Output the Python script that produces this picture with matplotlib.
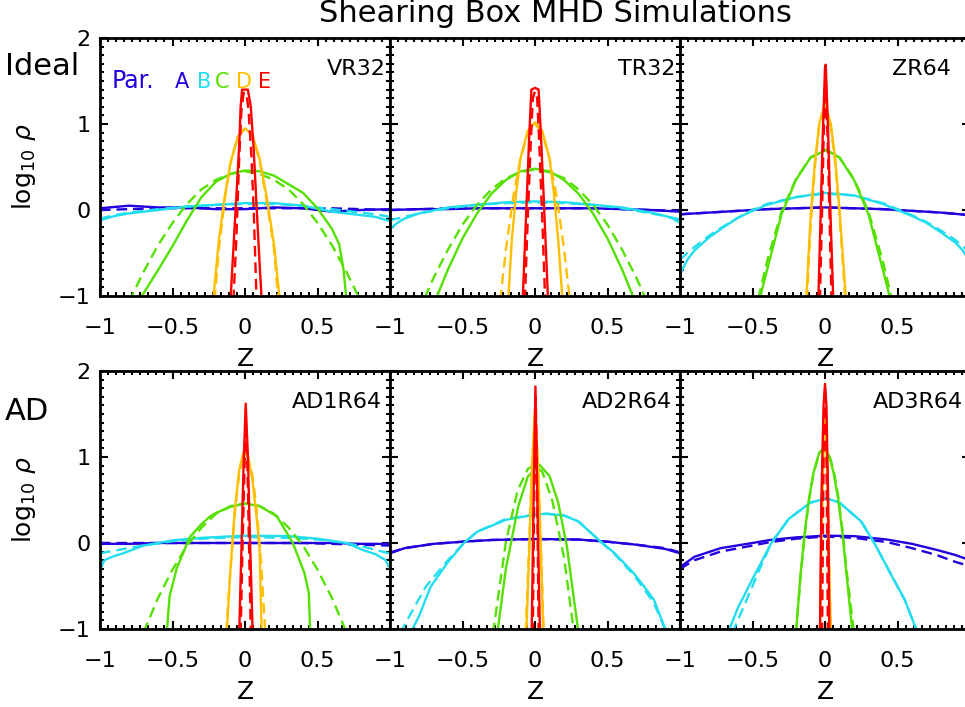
import numpy as np
import matplotlib
matplotlib.use("Agg")
import matplotlib.pyplot as plt
from matplotlib.ticker import MultipleLocator, AutoMinorLocator

plt.rcParams['font.family'] = ['DejaVu Sans']
plt.rcParams['mathtext.fontset'] = 'dejavusans'

# ---- data: z (height) and log10 rho ---- #
# sim = simulation profile (solid), fit = gaussian fit (dashed)

# VR32
VR32_A_z = [-1, -0.8, -0.6, -0.4, -0.2, 0, 0.2, 0.4, 0.6, 0.8, 1]
VR32_A_sim = [0.02, 0.05, 0.03, 0.03, 0.01, 0.01, 0.03, 0.02, -0.02, 0.0, 0.01]
VR32_A_fit = [0.0, 0.01, 0.02, 0.02, 0.02, 0.02, 0.02, 0.02, 0.02, 0.01, 0.0]
VR32_B_z = [-1, -0.9, -0.8, -0.6, -0.4, -0.2, 0, 0.2, 0.4, 0.6, 0.8, 0.9, 1]
VR32_B_sim = [-0.12, -0.07, -0.04, 0.0, 0.04, 0.06, 0.08, 0.08, 0.05, -0.02, -0.06, -0.08, -0.13]
VR32_B_fit = [-0.1, -0.06, -0.03, 0.01, 0.04, 0.06, 0.07, 0.07, 0.05, 0.01, -0.03, -0.05, -0.08]
VR32_C_zs = [-0.73, -0.6, -0.5, -0.4, -0.3, -0.2, -0.1, 0, 0.1, 0.2, 0.3, 0.4, 0.5, 0.6, 0.65, 0.68, 0.7]
VR32_C_sim = [-1.05, -0.7, -0.42, -0.12, 0.15, 0.33, 0.42, 0.46, 0.45, 0.4, 0.3, 0.2, 0.02, -0.22, -0.4, -0.7, -1.05]
VR32_C_zf = [-0.8, -0.7, -0.6, -0.5, -0.4, -0.3, -0.2, -0.1, 0, 0.1, 0.2, 0.3, 0.4, 0.5, 0.6, 0.7, 0.8]
VR32_C_fit = [-1.07, -0.72, -0.41, -0.15, 0.07, 0.24, 0.35, 0.42, 0.45, 0.42, 0.35, 0.24, 0.07, -0.15, -0.41, -0.72, -1.07]
VR32_D_zs = [-0.22, -0.18, -0.14, -0.1, -0.05, 0, 0.05, 0.1, 0.15, 0.2, 0.24]
VR32_D_sim = [-1.05, -0.35, 0.15, 0.55, 0.85, 0.95, 0.88, 0.6, 0.15, -0.4, -1.05]
VR32_D_zf = [-0.21, -0.18, -0.14, -0.1, -0.05, 0, 0.05, 0.1, 0.15, 0.2, 0.23]
VR32_D_fit = [-1.05, -0.45, 0.12, 0.55, 0.85, 0.95, 0.87, 0.58, 0.1, -0.45, -1.05]
VR32_E_zs = [-0.1, -0.08, -0.06, -0.04, -0.03, -0.02, 0.02, 0.04, 0.06, 0.08, 0.1, 0.115]
VR32_E_sim = [-1.05, -0.45, 0.15, 0.75, 1.2, 1.4, 1.4, 1.2, 0.7, 0.04, -0.6, -1.05]
VR32_E_zf = [-0.08, -0.06, -0.04, -0.025, -0.01, 0.01, 0.025, 0.045, 0.06, 0.075, 0.08]
VR32_E_fit = [-1.05, -0.35, 0.6, 1.15, 1.36, 1.36, 1.15, 0.6, 0.0, -0.8, -1.05]

# TR32
TR32_A_z = [-1, -0.8, -0.6, -0.4, -0.2, 0, 0.2, 0.4, 0.6, 0.8, 1]
TR32_A_sim = [0.0, 0.01, 0.01, 0.02, 0.02, 0.02, 0.02, 0.02, 0.01, 0.0, -0.02]
TR32_A_fit = [0.0, 0.01, 0.02, 0.02, 0.02, 0.02, 0.02, 0.02, 0.01, 0.0, -0.01]
TR32_B_z = [-1, -0.95, -0.9, -0.8, -0.6, -0.4, -0.2, 0, 0.2, 0.4, 0.6, 0.8, 0.9, 0.95, 1]
TR32_B_sim = [-0.22, -0.15, -0.1, -0.04, 0.03, 0.06, 0.09, 0.1, 0.09, 0.06, 0.03, -0.03, -0.07, -0.1, -0.15]
TR32_B_fit = [-0.12, -0.1, -0.08, -0.04, 0.02, 0.06, 0.08, 0.09, 0.08, 0.06, 0.02, -0.04, -0.07, -0.09, -0.11]
TR32_C_zs = [-0.68, -0.6, -0.5, -0.4, -0.3, -0.2, -0.1, 0, 0.1, 0.2, 0.3, 0.4, 0.5, 0.6, 0.68]
TR32_C_sim = [-1.02, -0.69, -0.33, -0.04, 0.19, 0.35, 0.45, 0.48, 0.45, 0.35, 0.19, -0.04, -0.33, -0.69, -1.02]
TR32_C_zf = [-0.76, -0.7, -0.6, -0.5, -0.4, -0.3, -0.2, -0.1, 0, 0.1, 0.2, 0.3, 0.4, 0.5, 0.6, 0.7, 0.76]
TR32_C_fit = [-1.02, -0.79, -0.46, -0.17, 0.06, 0.24, 0.37, 0.44, 0.47, 0.44, 0.37, 0.24, 0.06, -0.17, -0.46, -0.79, -1.02]
TR32_D_zs = [-0.185, -0.16, -0.13, -0.1, -0.05, 0, 0.05, 0.1, 0.13, 0.16, 0.19]
TR32_D_sim = [-1.05, -0.35, 0.2, 0.6, 0.92, 1.02, 0.92, 0.6, 0.2, -0.35, -1.05]
TR32_D_zf = [-0.24, -0.2, -0.15, -0.1, -0.05, 0, 0.05, 0.1, 0.15, 0.2, 0.24]
TR32_D_fit = [-1.05, -0.45, 0.15, 0.6, 0.9, 1.0, 0.9, 0.6, 0.15, -0.45, -1.05]
TR32_E_zs = [-0.085, -0.06, -0.04, -0.025, 0, 0.025, 0.04, 0.06, 0.09]
TR32_E_sim = [-1.05, 0.0, 0.85, 1.4, 1.42, 1.4, 0.9, 0.15, -1.05]
TR32_E_zf = [-0.07, -0.05, -0.03, -0.015, 0, 0.015, 0.03, 0.05, 0.07]
TR32_E_fit = [-1.05, -0.1, 0.75, 1.3, 1.38, 1.3, 0.75, -0.1, -1.05]

# ZR64
ZR64_A_z = [-1, -0.8, -0.6, -0.4, -0.2, 0, 0.2, 0.4, 0.6, 0.8, 1]
ZR64_A_sim = [-0.05, -0.03, -0.01, 0.01, 0.02, 0.03, 0.02, 0.01, -0.01, -0.03, -0.06]
ZR64_A_fit = [-0.05, -0.03, -0.01, 0.01, 0.02, 0.03, 0.02, 0.01, -0.01, -0.03, -0.06]
ZR64_B_z = [-1, -0.95, -0.9, -0.8, -0.7, -0.6, -0.5, -0.4, -0.2, 0, 0.2, 0.4, 0.5, 0.6, 0.7, 0.8, 0.9, 0.95, 1]
ZR64_B_sim = [-0.75, -0.58, -0.47, -0.32, -0.2, -0.09, -0.01, 0.06, 0.15, 0.2, 0.17, 0.07, 0.0, -0.07, -0.15, -0.26, -0.38, -0.47, -0.6]
ZR64_B_fit = [-0.58, -0.5, -0.43, -0.3, -0.19, -0.09, 0.0, 0.07, 0.15, 0.19, 0.17, 0.08, 0.01, -0.06, -0.14, -0.24, -0.35, -0.42, -0.5]
ZR64_C_zs = [-0.45, -0.4, -0.3, -0.2, -0.1, 0.01, 0.1, 0.2, 0.3, 0.4, 0.45]
ZR64_C_sim = [-1.03, -0.7, -0.05, 0.35, 0.61, 0.7, 0.61, 0.35, -0.05, -0.7, -1.03]
ZR64_C_zf = [-0.46, -0.4, -0.3, -0.2, -0.1, 0, 0.1, 0.2, 0.3, 0.4, 0.46]
ZR64_C_fit = [-1.03, -0.6, -0.02, 0.36, 0.61, 0.7, 0.61, 0.36, -0.02, -0.6, -1.03]
ZR64_D_zs = [-0.13, -0.1, -0.07, -0.04, 0, 0.04, 0.07, 0.1, 0.145]
ZR64_D_sim = [-1.05, -0.1, 0.55, 1.0, 1.24, 1.0, 0.6, 0.0, -1.05]
ZR64_D_zf = [-0.125, -0.1, -0.07, -0.04, 0, 0.04, 0.07, 0.1, 0.14]
ZR64_D_fit = [-1.05, -0.2, 0.5, 0.98, 1.22, 0.98, 0.55, -0.05, -1.05]
ZR64_E_zs = [-0.046, -0.03, -0.015, 0, 0.005, 0.02, 0.035, 0.057]
ZR64_E_sim = [-1.05, -0.05, 0.9, 1.65, 1.69, 1.0, 0.1, -1.05]
ZR64_E_zf = [-0.035, -0.02, -0.01, 0.005, 0.02, 0.03, 0.045]
ZR64_E_fit = [-1.05, 0.0, 0.8, 1.5, 0.7, 0.0, -1.05]

# AD1R64
AD1_A_z = [-1, -0.8, -0.6, -0.4, -0.2, 0, 0.2, 0.4, 0.6, 0.8, 1]
AD1_A_sim = [-0.01, -0.01, 0.0, 0.0, 0.0, 0.0, 0.0, 0.0, 0.0, -0.01, -0.01]
AD1_A_fit = [0.0, 0.0, 0.0, 0.0, 0.0, 0.0, 0.0, 0.0, -0.01, -0.02, -0.03]
AD1_B_z = [-1, -0.97, -0.9, -0.84, -0.7, -0.5, -0.3, 0, 0.3, 0.5, 0.7, 0.81, 0.9, 0.97, 1]
AD1_B_sim = [-0.32, -0.2, -0.15, -0.12, -0.03, 0.03, 0.06, 0.085, 0.08, 0.05, 0.0, -0.08, -0.13, -0.2, -0.3]
AD1_B_fit = [-0.12, -0.11, -0.09, -0.07, -0.03, 0.02, 0.05, 0.07, 0.06, 0.04, 0.0, -0.04, -0.08, -0.11, -0.12]
AD1_C_zs = [-0.54, -0.52, -0.47, -0.38, -0.3, -0.24, -0.2, -0.1, 0, 0.1, 0.22, 0.33, 0.41, 0.44, 0.45]
AD1_C_sim = [-1.05, -0.62, -0.29, 0.07, 0.22, 0.31, 0.35, 0.42, 0.46, 0.43, 0.31, 0.0, -0.35, -0.58, -1.05]
AD1_C_zf = [-0.7, -0.6, -0.5, -0.4, -0.3, -0.2, -0.1, 0, 0.1, 0.2, 0.3, 0.4, 0.5, 0.6, 0.7]
AD1_C_fit = [-1.04, -0.64, -0.31, -0.03, 0.18, 0.34, 0.43, 0.46, 0.43, 0.34, 0.18, -0.03, -0.31, -0.64, -1.04]
AD1_D_zs = [-0.126, -0.1, -0.07, -0.04, -0.01, 0.02, 0.05, 0.08, 0.1, 0.115]
AD1_D_sim = [-1.05, -0.3, 0.4, 0.85, 1.06, 1.0, 0.75, 0.3, -0.05, -1.05]
AD1_D_zf = [-0.13, -0.1, -0.07, -0.04, -0.01, 0.02, 0.05, 0.08, 0.11, 0.14]
AD1_D_fit = [-1.05, -0.3, 0.35, 0.8, 1.02, 1.0, 0.8, 0.4, -0.2, -1.05]
AD1_E_zs = [-0.04, -0.025, -0.01, 0.005, 0.02, 0.035, 0.053]
AD1_E_sim = [-1.05, -0.1, 0.9, 1.62, 1.0, 0.0, -1.05]
AD1_E_zf = [-0.03, -0.015, 0.0, 0.005, 0.015, 0.03, 0.04]
AD1_E_fit = [-1.05, 0.1, 1.1, 1.3, 1.0, -0.2, -1.05]

# AD2R64
AD2_A_z = [-1, -0.9, -0.7, -0.5, -0.3, 0, 0.3, 0.5, 0.7, 0.9, 1]
AD2_A_sim = [-0.12, -0.06, -0.01, 0.015, 0.035, 0.047, 0.04, 0.015, -0.02, -0.07, -0.12]
AD2_A_fit = [-0.11, -0.06, -0.01, 0.015, 0.035, 0.045, 0.04, 0.015, -0.02, -0.06, -0.11]
AD2_B_zs = [-0.86, -0.8, -0.72, -0.6, -0.49, -0.4, -0.2, 0, 0.08, 0.2, 0.3, 0.45, 0.55, 0.68, 0.75, 0.82, 0.91]
AD2_B_sim = [-1.05, -0.85, -0.51, -0.22, 0.0, 0.13, 0.27, 0.33, 0.34, 0.32, 0.25, 0.02, -0.12, -0.35, -0.5, -0.66, -1.05]
AD2_B_zf = [-0.93, -0.85, -0.75, -0.6, -0.49, -0.4, -0.2, 0, 0.08, 0.2, 0.3, 0.45, 0.55, 0.68, 0.75, 0.82, 0.91]
AD2_B_fit = [-1.05, -0.8, -0.5, -0.2, 0.0, 0.13, 0.28, 0.33, 0.34, 0.32, 0.25, 0.02, -0.13, -0.37, -0.53, -0.7, -1.05]
AD2_C_zs = [-0.26, -0.2, -0.115, -0.05, 0.03, 0.1, 0.16, 0.22, 0.3]
AD2_C_sim = [-1.05, -0.29, 0.43, 0.77, 0.91, 0.78, 0.47, -0.04, -1.05]
AD2_C_zf = [-0.29, -0.2, -0.12, -0.05, -0.01, 0.05, 0.12, 0.2, 0.27]
AD2_C_fit = [-1.05, 0.02, 0.61, 0.86, 0.9, 0.83, 0.49, -0.17, -1.05]
AD2_D_zs = [-0.06, -0.04, -0.02, 0, 0.02, 0.04, 0.057]
AD2_D_sim = [-1.05, -0.1, 0.9, 1.55, 0.95, -0.05, -1.05]
AD2_D_zf = [-0.065, -0.04, -0.02, 0, 0.02, 0.04, 0.06]
AD2_D_fit = [-1.05, 0.0, 0.95, 1.45, 0.95, 0.0, -1.05]
AD2_E_zs = [-0.023, -0.01, 0.003, 0.015, 0.034]
AD2_E_sim = [-1.05, 0.5, 1.82, 0.6, -1.05]
AD2_E_zf = [-0.015, -0.005, 0.005, 0.015, 0.025]
AD2_E_fit = [-1.05, 0.6, 1.7, 0.6, -1.05]

# AD3R64
AD3_A_z = [-1, -0.9, -0.72, -0.5, -0.38, -0.2, 0, 0.2, 0.43, 0.6, 0.77, 0.9, 1]
AD3_A_sim = [-0.28, -0.16, -0.06, 0.0, 0.035, 0.065, 0.085, 0.08, 0.04, -0.01, -0.08, -0.14, -0.2]
AD3_A_fit = [-0.3, -0.2, -0.1, -0.03, 0.01, 0.05, 0.075, 0.06, 0.01, -0.06, -0.14, -0.22, -0.27]
AD3_B_zs = [-0.67, -0.6, -0.5, -0.37, -0.25, -0.1, 0.01, 0.1, 0.25, 0.34, 0.45, 0.55, 0.64]
AD3_B_sim = [-1.05, -0.75, -0.42, 0.0, 0.28, 0.47, 0.52, 0.47, 0.25, 0.0, -0.35, -0.66, -1.05]
AD3_B_zf = [-0.64, -0.55, -0.45, -0.37, -0.25, -0.1, 0.01, 0.1, 0.25, 0.34, 0.45, 0.55, 0.64]
AD3_B_fit = [-1.05, -0.7, -0.3, 0.0, 0.28, 0.47, 0.52, 0.47, 0.25, 0.0, -0.35, -0.66, -1.05]
AD3_C_zs = [-0.2, -0.17, -0.14, -0.11, -0.08, -0.04, -0.01, 0.03, 0.06, 0.09, 0.12, 0.15, 0.19]
AD3_C_sim = [-1.05, -0.39, 0.12, 0.52, 0.81, 1.05, 1.1, 1.01, 0.81, 0.52, 0.12, -0.39, -1.05]
AD3_C_zf = [-0.2, -0.17, -0.14, -0.11, -0.08, -0.04, -0.01, 0.03, 0.06, 0.09, 0.12, 0.15, 0.2]
AD3_C_fit = [-1.05, -0.42, 0.1, 0.5, 0.8, 1.04, 1.1, 1.02, 0.84, 0.56, 0.16, -0.33, -1.05]
AD3_D_zs = [-0.035, -0.02, -0.005, 0.01, 0.025, 0.04]
AD3_D_sim = [-1.05, 0.3, 1.5, 1.3, 0.0, -1.05]
AD3_D_zf = [-0.035, -0.02, -0.005, 0.01, 0.025, 0.04]
AD3_D_fit = [-1.05, 0.2, 1.45, 1.25, -0.1, -1.05]
AD3_E_zs = [-0.035, -0.025, -0.01, 0.0, 0.01, 0.022, 0.03]
AD3_E_sim = [-1.05, 0.5, 1.6, 1.85, 1.6, 0.5, -1.05]
AD3_E_zf = [-0.02, -0.01, 0.0, 0.01, 0.02]
AD3_E_fit = [-1.05, 1.0, 1.8, 1.0, -1.05]

panel_names = ['VR32', 'TR32', 'ZR64', 'AD1R64', 'AD2R64', 'AD3R64']
species = ['A', 'B', 'C', 'D', 'E']
colors = ['#2200dd', '#22ddee', '#55e000', '#ffbf00', '#ff0000']

# (z_sim, sim, z_fit, fit) per species, per panel
panels = [
    [(VR32_A_z, VR32_A_sim, VR32_A_z, VR32_A_fit), (VR32_B_z, VR32_B_sim, VR32_B_z, VR32_B_fit),
     (VR32_C_zs, VR32_C_sim, VR32_C_zf, VR32_C_fit), (VR32_D_zs, VR32_D_sim, VR32_D_zf, VR32_D_fit),
     (VR32_E_zs, VR32_E_sim, VR32_E_zf, VR32_E_fit)],
    [(TR32_A_z, TR32_A_sim, TR32_A_z, TR32_A_fit), (TR32_B_z, TR32_B_sim, TR32_B_z, TR32_B_fit),
     (TR32_C_zs, TR32_C_sim, TR32_C_zf, TR32_C_fit), (TR32_D_zs, TR32_D_sim, TR32_D_zf, TR32_D_fit),
     (TR32_E_zs, TR32_E_sim, TR32_E_zf, TR32_E_fit)],
    [(ZR64_A_z, ZR64_A_sim, ZR64_A_z, ZR64_A_fit), (ZR64_B_z, ZR64_B_sim, ZR64_B_z, ZR64_B_fit),
     (ZR64_C_zs, ZR64_C_sim, ZR64_C_zf, ZR64_C_fit), (ZR64_D_zs, ZR64_D_sim, ZR64_D_zf, ZR64_D_fit),
     (ZR64_E_zs, ZR64_E_sim, ZR64_E_zf, ZR64_E_fit)],
    [(AD1_A_z, AD1_A_sim, AD1_A_z, AD1_A_fit), (AD1_B_z, AD1_B_sim, AD1_B_z, AD1_B_fit),
     (AD1_C_zs, AD1_C_sim, AD1_C_zf, AD1_C_fit), (AD1_D_zs, AD1_D_sim, AD1_D_zf, AD1_D_fit),
     (AD1_E_zs, AD1_E_sim, AD1_E_zf, AD1_E_fit)],
    [(AD2_A_z, AD2_A_sim, AD2_A_z, AD2_A_fit), (AD2_B_zs, AD2_B_sim, AD2_B_zf, AD2_B_fit),
     (AD2_C_zs, AD2_C_sim, AD2_C_zf, AD2_C_fit), (AD2_D_zs, AD2_D_sim, AD2_D_zf, AD2_D_fit),
     (AD2_E_zs, AD2_E_sim, AD2_E_zf, AD2_E_fit)],
    [(AD3_A_z, AD3_A_sim, AD3_A_z, AD3_A_fit), (AD3_B_zs, AD3_B_sim, AD3_B_zf, AD3_B_fit),
     (AD3_C_zs, AD3_C_sim, AD3_C_zf, AD3_C_fit), (AD3_D_zs, AD3_D_sim, AD3_D_zf, AD3_D_fit),
     (AD3_E_zs, AD3_E_sim, AD3_E_zf, AD3_E_fit)],
]

# ---- layout (pixel positions of the 965x707 original) ---- #
W, H = 965.0, 707.0
fig = plt.figure(figsize=(9.65, 7.07), dpi=100)

lefts = [100, 390, 680]
tops = [38, 371]
pw, ph = 290, 258
label_x = [0.985, 0.983, 0.934, 0.972, 0.972, 0.976]

for k, name in enumerate(panel_names):
    row, col = divmod(k, 3)
    ax = fig.add_axes([lefts[col] / W, 1 - (tops[row] + ph) / H, pw / W, ph / H])
    for (zs, ys, zf, yf), c in zip(panels[k], colors):
        ax.plot(zs, ys, color=c, lw=1.7, solid_joinstyle='round')
        ax.plot(zf, yf, color=c, lw=1.7, dashes=(4.5, 2.5))
    ax.set_xlim(-1, 1)
    ax.set_ylim(-1, 2)
    ax.set_xticks([-1, -0.5, 0, 0.5, 1])
    ax.set_xticklabels(['\u22121', '\u22120.5', '0', '0.5', ''])
    ax.xaxis.set_minor_locator(AutoMinorLocator(9))
    ax.set_yticks([-1, 0, 1, 2])
    ax.yaxis.set_minor_locator(MultipleLocator(0.1))
    if col == 0:
        ax.set_yticklabels(['\u22121', '0', '1', '2'])
        ax.set_ylabel(r'log$_{10}$ $\rho$', fontsize=18, va='center')
        ax.yaxis.set_label_coords(-0.262, 0.5)
    else:
        ax.set_yticklabels([])
    ax.set_xlabel('Z', fontsize=18, labelpad=6)
    ax.tick_params(which='both', direction='in', top=True, right=True, width=1.5)
    ax.tick_params(which='major', length=6)
    ax.tick_params(which='minor', length=3)
    ax.tick_params(axis='x', which='major', pad=16, labelsize=16)
    ax.tick_params(axis='y', which='major', pad=7, labelsize=16)
    for s in ax.spines.values():
        s.set_linewidth(2)
    ax.text(label_x[k], 0.857, name, transform=ax.transAxes, ha='right',
            va='baseline', fontsize=16)

    if k == 0:
        # colour key for the particle species
        ax.text((112 - 100) / pw, 0.806, 'Par.', transform=ax.transAxes,
                color=colors[0], fontsize=17, va='baseline')
        key_x = [175, 197, 215, 236, 258]
        for sp, c, px in zip(species, colors, key_x):
            ax.text((px - 100) / pw, 0.806, sp, transform=ax.transAxes,
                    color=c, fontsize=15, va='baseline')

fig.text(555 / W, 1 - 14 / H, 'Shearing Box MHD Simulations', ha='center',
         va='center', fontsize=22)
fig.text(5 / W, 1 - 75 / H, 'Ideal', ha='left', va='baseline', fontsize=22)
fig.text(5 / W, 1 - 420 / H, 'AD', ha='left', va='baseline', fontsize=22)

fig.savefig('out.png', dpi=100)
